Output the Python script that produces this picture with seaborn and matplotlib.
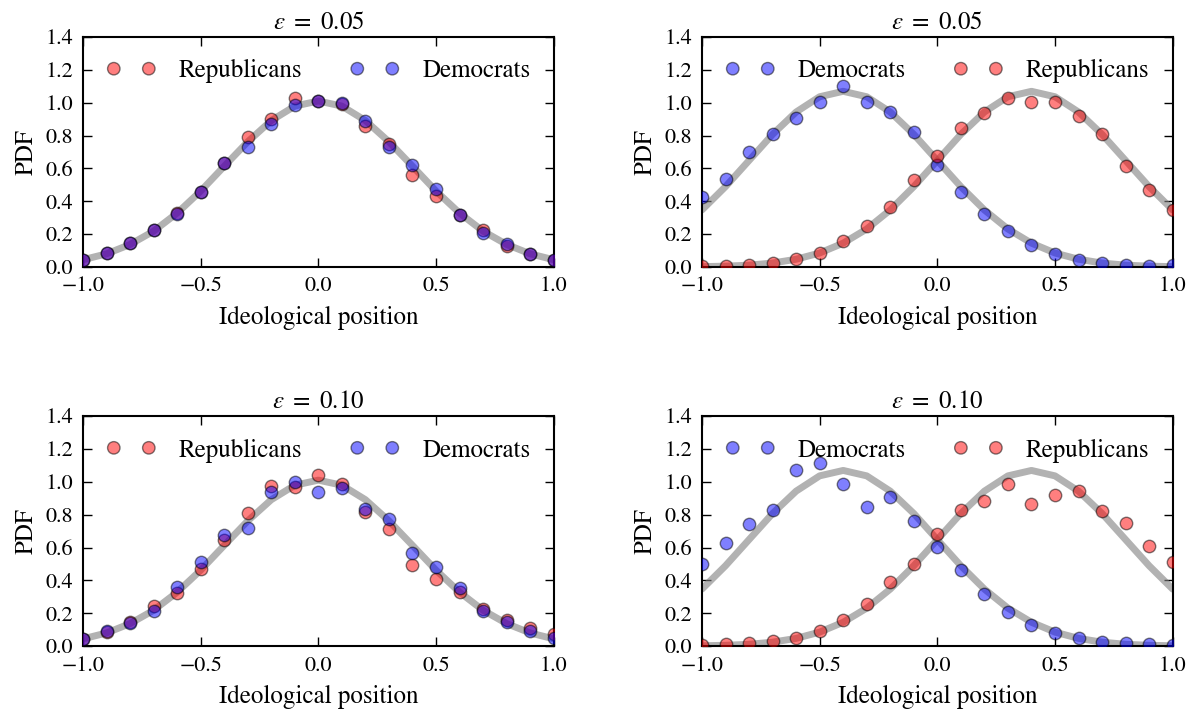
import matplotlib
matplotlib.use("Agg")
import matplotlib.pyplot as plt
import seaborn as sns
import pandas as pd

x = [-1.0, -0.9, -0.8, -0.7, -0.6, -0.5, -0.4, -0.3, -0.2, -0.1, 0.0,
     0.1, 0.2, 0.3, 0.4, 0.5, 0.6, 0.7, 0.8, 0.9, 1.0]

# theoretical curves (gray)
curve_center = [0.044, 0.080, 0.137, 0.218, 0.328, 0.462, 0.613, 0.762, 0.891, 0.979, 1.010,
                0.979, 0.891, 0.762, 0.613, 0.462, 0.328, 0.218, 0.137, 0.080, 0.044]
curve_right = [0.002, 0.005, 0.011, 0.024, 0.047, 0.085, 0.145, 0.231, 0.347, 0.489, 0.648,
               0.807, 0.943, 1.036, 1.069, 1.036, 0.943, 0.807, 0.648, 0.489, 0.347]
curve_left = curve_right[::-1]

# eps = 0.05, left panel
rep_a = [0.045, 0.085, 0.145, 0.225, 0.330, 0.455, 0.630, 0.789, 0.898, 1.030, 1.010,
         0.990, 0.858, 0.746, 0.559, 0.433, 0.319, 0.228, 0.126, 0.077, 0.045]
dem_a = [0.045, 0.085, 0.145, 0.225, 0.325, 0.455, 0.630, 0.728, 0.868, 0.986, 1.010,
         1.000, 0.890, 0.732, 0.620, 0.474, 0.319, 0.209, 0.142, 0.077, 0.045]
# eps = 0.05, right panel
dem_b = [0.427, 0.535, 0.697, 0.809, 0.904, 1.002, 1.100, 1.006, 0.945, 0.819, 0.620,
         0.457, 0.325, 0.220, 0.136, 0.077, 0.045, 0.024, 0.014, 0.008, 0.010]
rep_b = [0.004, 0.008, 0.014, 0.026, 0.049, 0.087, 0.156, 0.250, 0.362, 0.528, 0.677,
         0.843, 0.939, 1.026, 1.002, 1.002, 0.919, 0.809, 0.616, 0.467, 0.346]
# eps = 0.10, left panel
rep_c = [0.045, 0.088, 0.147, 0.241, 0.322, 0.471, 0.643, 0.812, 0.976, 0.971, 1.040,
         0.986, 0.816, 0.710, 0.492, 0.408, 0.327, 0.227, 0.159, 0.108, 0.071]
dem_c = [0.045, 0.092, 0.143, 0.214, 0.359, 0.510, 0.676, 0.716, 0.935, 0.996, 0.939,
         0.965, 0.833, 0.771, 0.567, 0.482, 0.353, 0.216, 0.147, 0.094, 0.051]
# eps = 0.10, right panel
dem_d = [0.500, 0.629, 0.745, 0.827, 1.073, 1.114, 0.986, 0.849, 0.910, 0.761, 0.602,
         0.461, 0.316, 0.210, 0.129, 0.082, 0.047, 0.027, 0.016, 0.010, 0.006]
rep_d = [0.006, 0.010, 0.016, 0.031, 0.047, 0.094, 0.159, 0.255, 0.390, 0.502, 0.680,
         0.829, 0.880, 0.986, 0.863, 0.918, 0.945, 0.822, 0.747, 0.608, 0.512]

titles = [r"$\epsilon\ =\ 0.05$", r"$\epsilon\ =\ 0.05$", r"$\epsilon\ =\ 0.10$", r"$\epsilon\ =\ 0.10$"]
xticks = [-1.0, -0.5, 0.0, 0.5, 1.0]
yticks = [0.0, 0.2, 0.4, 0.6, 0.8, 1.0, 1.2, 1.4]

sns.set_style("ticks")
plt.rcParams.update({
    "font.family": ["STIXGeneral", "DejaVu Serif"],
    "mathtext.fontset": "stix",
    "font.size": 16,
    "axes.linewidth": 1.5,
    "xtick.direction": "in",
    "ytick.direction": "in",
    "xtick.top": True,
    "ytick.right": True,
    "xtick.major.size": 6.5,
    "ytick.major.size": 6.5,
    "xtick.major.width": 1.0,
    "ytick.major.width": 1.0,
    "xtick.major.pad": 7,
    "ytick.major.pad": 7,
    "xtick.color": "black",
    "ytick.color": "black",
    "axes.edgecolor": "black",
    "text.color": "black",
    "axes.labelcolor": "black",
})

fig, axes = plt.subplots(2, 2, figsize=(11.91, 7.10), dpi=100)
fig.subplots_adjust(left=0.0697, right=0.9846, bottom=0.090, top=0.948,
                    wspace=0.315, hspace=0.648)

panels = [
    (axes[0, 0], [curve_center], [("Republicans", rep_a, "red"), ("Democrats", dem_a, "blue")]),
    (axes[0, 1], [curve_left, curve_right], [("Democrats", dem_b, "blue"), ("Republicans", rep_b, "red")]),
    (axes[1, 0], [curve_center], [("Republicans", rep_c, "red"), ("Democrats", dem_c, "blue")]),
    (axes[1, 1], [curve_left, curve_right], [("Democrats", dem_d, "blue"), ("Republicans", rep_d, "red")]),
]

for (ax, curves, series), title in zip(panels, titles):
    for cv in curves:
        sns.lineplot(x=x, y=cv, ax=ax, color="gray", alpha=0.6, lw=5, zorder=1)
    for name, vals, col in series:
        df = pd.DataFrame({"x": x, "y": vals})
        sns.scatterplot(data=df, x="x", y="y", ax=ax, color=col, alpha=0.5,
                        s=80, edgecolor="black", linewidth=1.0, label=name, zorder=3)
    ax.set_xlim(-1.0, 1.0)
    ax.set_ylim(0.0, 1.4)
    ax.set_xticks(xticks)
    ax.set_yticks(yticks)
    ax.set_xlabel("Ideological position", fontsize=18, labelpad=7)
    ax.set_ylabel("PDF", fontsize=18, labelpad=5)
    ax.set_title(title, fontsize=18, pad=6)
    ax.legend(loc="upper center", ncol=2, scatterpoints=2, scatteryoffsets=[0.5],
              frameon=False, fontsize=18, handlelength=2.0, handletextpad=0.9,
              columnspacing=1.9, borderaxespad=0.5, borderpad=0.4)
    ax.tick_params(labelsize=16)

fig.savefig("out.png", dpi=100)
